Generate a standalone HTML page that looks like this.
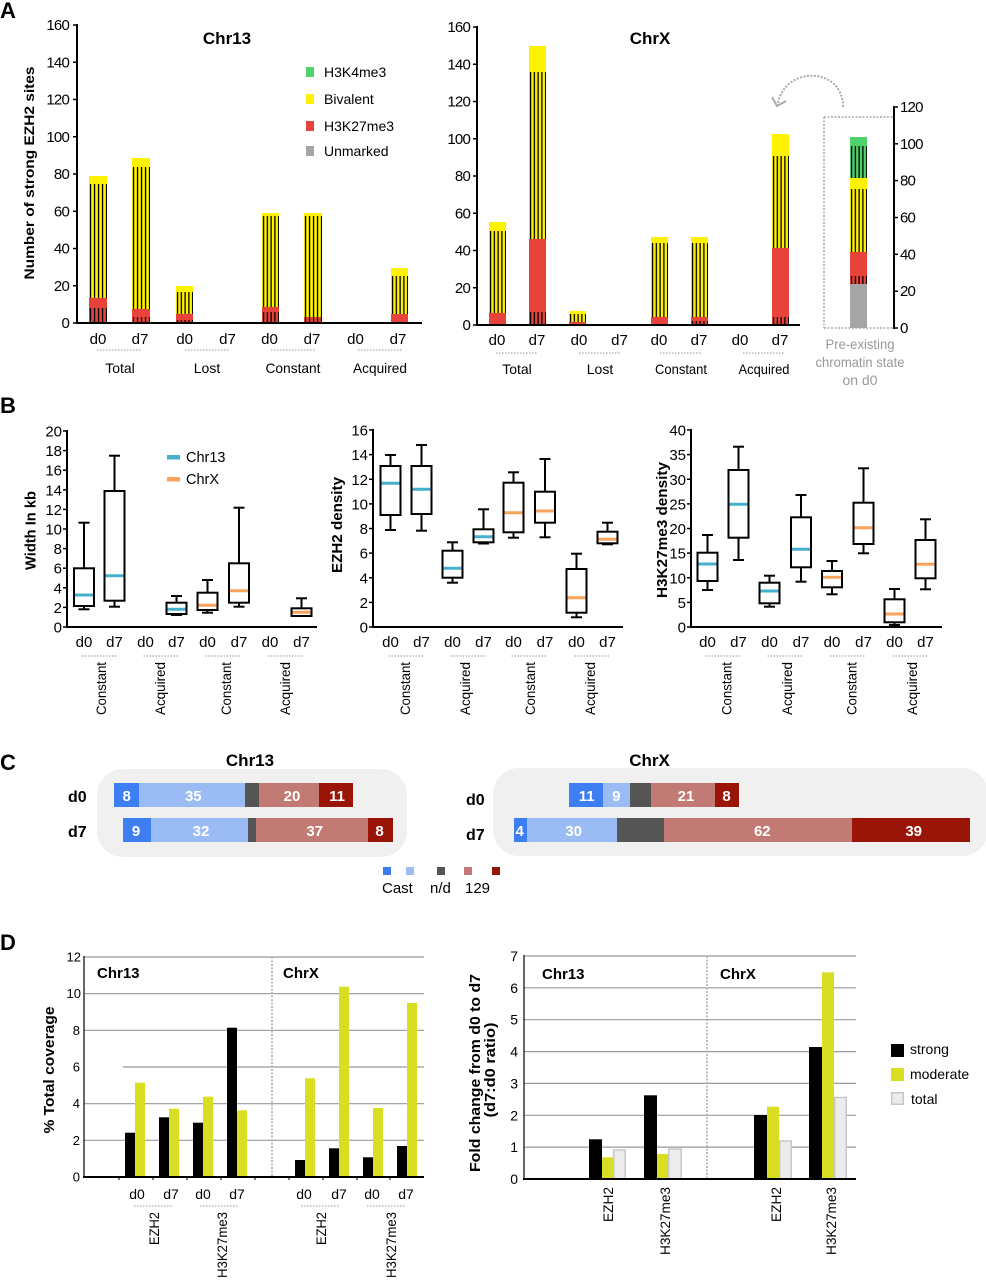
<!DOCTYPE html>
<html>
<head>
<meta charset="utf-8">
<style>
html,body{margin:0;padding:0;background:#fff;}
svg{display:block;}
text{font-family:"Liberation Sans",Arial,Helvetica,sans-serif;fill:#000;}
.tk{font-size:15px;letter-spacing:-0.8px;}
.tkb{font-size:15px;}
.lab{font-size:15px;}
.grp{font-size:14px;}
.b{font-weight:bold;}
.g text,.gr{fill:#999;}
</style>
</head>
<body>
<svg xmlns="http://www.w3.org/2000/svg" width="986" height="1280" viewBox="0 0 986 1280">
<defs>
<pattern id="h" patternUnits="objectBoundingBox" width="0.2222" height="1">
<rect x="0.9" y="0" width="1.3" height="400" fill="#000"/>
</pattern>
</defs>
<rect width="986" height="1280" fill="#fff"/>

<!-- ================= PANEL A ================= -->
<text x="0" y="18" font-size="22" class="b">A</text>

<!-- Chr13 -->
<text x="227" y="44" font-size="17" class="b" text-anchor="middle">Chr13</text>
<text transform="translate(34,173) rotate(-90)" font-size="14" class="b" text-anchor="middle" textLength="213" lengthAdjust="spacingAndGlyphs">Number of strong EZH2 sites</text>
<g stroke="#000" stroke-width="1.5">
<line x1="73" y1="323" x2="77" y2="323"/><line x1="73" y1="285.75" x2="77" y2="285.75"/><line x1="73" y1="248.5" x2="77" y2="248.5"/><line x1="73" y1="211.25" x2="77" y2="211.25"/><line x1="73" y1="174" x2="77" y2="174"/><line x1="73" y1="136.75" x2="77" y2="136.75"/><line x1="73" y1="99.5" x2="77" y2="99.5"/><line x1="73" y1="62.25" x2="77" y2="62.25"/><line x1="73" y1="25" x2="77" y2="25"/>
</g>
<g class="tk" text-anchor="end">
<text x="69" y="328">0</text><text x="69" y="290.75">20</text><text x="69" y="253.5">40</text><text x="69" y="216.25">60</text><text x="69" y="179">80</text><text x="69" y="141.75">100</text><text x="69" y="104.5">120</text><text x="69" y="67.25">140</text><text x="69" y="30">160</text>
</g>
<!-- bars Chr13 -->
<g>
<rect x="89" y="176" width="18" height="122" fill="#fff200"/><rect x="89" y="298" width="18" height="25" fill="#e8433b"/>
<rect x="89" y="184" width="18" height="114" fill="url(#h)"/><rect x="89" y="308" width="18" height="15" fill="url(#h)"/>

<rect x="132" y="158" width="18" height="151" fill="#fff200"/><rect x="132" y="309" width="18" height="14" fill="#e8433b"/>
<rect x="132" y="167" width="18" height="142" fill="url(#h)"/><rect x="132" y="317" width="18" height="6" fill="url(#h)"/>

<rect x="176" y="286" width="17" height="28" fill="#fff200"/><rect x="176" y="314" width="17" height="9" fill="#e8433b"/>
<rect x="176" y="292" width="17" height="22" fill="url(#h)"/><rect x="176" y="320" width="17" height="3" fill="url(#h)"/>

<rect x="262" y="213" width="17" height="94" fill="#fff200"/><rect x="262" y="307" width="17" height="16" fill="#e8433b"/>
<rect x="262" y="216" width="17" height="91" fill="url(#h)"/><rect x="262" y="312" width="17" height="11" fill="url(#h)"/>

<rect x="304" y="213" width="18" height="104" fill="#fff200"/><rect x="304" y="317" width="18" height="6" fill="#e8433b"/>
<rect x="304" y="216" width="18" height="107" fill="url(#h)"/>

<rect x="391" y="268" width="17" height="46" fill="#fff200"/><rect x="391" y="314" width="17" height="9" fill="#e8433b"/>
<rect x="391" y="276" width="17" height="38" fill="url(#h)"/>
</g>
<line x1="77" y1="24" x2="77" y2="324" stroke="#000" stroke-width="2"/>
<line x1="76" y1="323" x2="422" y2="323" stroke="#000" stroke-width="2"/>
<!-- legend A -->
<rect x="306" y="67" width="8" height="10" fill="#4fd26a"/>
<rect x="306" y="94" width="8" height="10" fill="#fff200"/>
<rect x="306" y="121" width="8" height="10" fill="#e8433b"/>
<rect x="306" y="146" width="8" height="10" fill="#a5a5a5"/>
<g font-size="14">
<text x="324" y="77">H3K4me3</text><text x="324" y="104">Bivalent</text><text x="324" y="131">H3K27me3</text><text x="324" y="156">Unmarked</text>
</g>
<g class="lab" text-anchor="middle">
<text x="98" y="344">d0</text><text x="140" y="344">d7</text><text x="184.7" y="344">d0</text><text x="227.5" y="344">d7</text><text x="269.5" y="344">d0</text><text x="312" y="344">d7</text><text x="355.5" y="344">d0</text><text x="398" y="344">d7</text>
</g>
<g stroke="#aaa" stroke-width="1.3" stroke-dasharray="1.5 1.5">
<line x1="97" y1="350" x2="142" y2="350"/><line x1="185" y1="350" x2="230" y2="350"/><line x1="271" y1="350" x2="316" y2="350"/><line x1="358" y1="350" x2="403" y2="350"/>
</g>
<g class="grp" text-anchor="middle">
<text x="120" y="373">Total</text><text x="207" y="373">Lost</text><text x="293" y="373" textLength="55" lengthAdjust="spacingAndGlyphs">Constant</text><text x="380" y="373" textLength="54" lengthAdjust="spacingAndGlyphs">Acquired</text>
</g>

<!-- ChrX -->
<text x="650" y="44" font-size="17" class="b" text-anchor="middle">ChrX</text>
<g stroke="#000" stroke-width="1.5">
<line x1="473" y1="325" x2="477" y2="325"/><line x1="473" y1="287.75" x2="477" y2="287.75"/><line x1="473" y1="250.5" x2="477" y2="250.5"/><line x1="473" y1="213.25" x2="477" y2="213.25"/><line x1="473" y1="176" x2="477" y2="176"/><line x1="473" y1="138.75" x2="477" y2="138.75"/><line x1="473" y1="101.5" x2="477" y2="101.5"/><line x1="473" y1="64.25" x2="477" y2="64.25"/><line x1="473" y1="27" x2="477" y2="27"/>
</g>
<g class="tk" text-anchor="end">
<text x="470" y="330">0</text><text x="470" y="292.75">20</text><text x="470" y="255.5">40</text><text x="470" y="218.25">60</text><text x="470" y="181">80</text><text x="470" y="143.75">100</text><text x="470" y="106.5">120</text><text x="470" y="69.25">140</text><text x="470" y="32">160</text>
</g>
<g>
<rect x="489" y="222" width="17" height="91" fill="#fff200"/><rect x="489" y="313" width="17" height="12" fill="#e8433b"/>
<rect x="489" y="231" width="17" height="82" fill="url(#h)"/>

<rect x="529" y="46" width="17" height="193" fill="#fff200"/><rect x="529" y="239" width="17" height="86" fill="#e8433b"/>
<rect x="529" y="72" width="17" height="167" fill="url(#h)"/><rect x="529" y="312" width="17" height="13" fill="url(#h)"/>

<rect x="569" y="311" width="17" height="11" fill="#fff200"/><rect x="569" y="322" width="17" height="3" fill="#e8433b"/>
<rect x="569" y="314" width="17" height="8" fill="url(#h)"/>

<rect x="651" y="237" width="17" height="80" fill="#fff200"/><rect x="651" y="317" width="17" height="8" fill="#e8433b"/>
<rect x="651" y="243" width="17" height="74" fill="url(#h)"/>

<rect x="691" y="237" width="17" height="80" fill="#fff200"/><rect x="691" y="317" width="17" height="8" fill="#e8433b"/>
<rect x="691" y="243" width="17" height="74" fill="url(#h)"/><rect x="691" y="321" width="17" height="4" fill="url(#h)"/>

<rect x="772" y="134" width="17" height="114" fill="#fff200"/><rect x="772" y="248" width="17" height="77" fill="#e8433b"/>
<rect x="772" y="156" width="17" height="92" fill="url(#h)"/><rect x="772" y="317" width="17" height="8" fill="url(#h)"/>
</g>
<line x1="477" y1="26" x2="477" y2="326" stroke="#000" stroke-width="2"/>
<line x1="476" y1="325" x2="800" y2="325" stroke="#000" stroke-width="2"/>
<g class="lab" text-anchor="middle">
<text x="497" y="345">d0</text><text x="537" y="345">d7</text><text x="579" y="345">d0</text><text x="619.5" y="345">d7</text><text x="659" y="345">d0</text><text x="699" y="345">d7</text><text x="740" y="345">d0</text><text x="780" y="345">d7</text>
</g>
<g stroke="#aaa" stroke-width="1.3" stroke-dasharray="1.5 1.5">
<line x1="496" y1="353" x2="538" y2="353"/><line x1="579" y1="353" x2="621" y2="353"/><line x1="660" y1="353" x2="702" y2="353"/><line x1="743" y1="353" x2="784" y2="353"/>
</g>
<g class="grp" text-anchor="middle">
<text x="517" y="374">Total</text><text x="600" y="374">Lost</text><text x="681" y="374" textLength="52" lengthAdjust="spacingAndGlyphs">Constant</text><text x="764" y="374" textLength="51" lengthAdjust="spacingAndGlyphs">Acquired</text>
</g>

<!-- inset -->
<path d="M843,107 C843,66 785,66 778,103" fill="none" stroke="#aaa" stroke-width="2" stroke-dasharray="2 1.5"/>
<polyline points="772,97 777,106 786,101" fill="none" stroke="#aaa" stroke-width="2"/>
<g stroke="#aaa" stroke-width="1.5" stroke-dasharray="2 1.5" fill="none">
<line x1="824" y1="117" x2="893" y2="117"/><line x1="824" y1="117" x2="824" y2="328"/><line x1="824" y1="328" x2="893" y2="328"/>
</g>
<rect x="850" y="137" width="17" height="41" fill="#4fd26a"/>
<rect x="850" y="178" width="17" height="74" fill="#fff200"/>
<rect x="850" y="252" width="17" height="32" fill="#e8433b"/>
<rect x="850" y="284" width="17" height="44" fill="#a5a5a5"/>
<rect x="850" y="146" width="17" height="32" fill="url(#h)"/>
<rect x="850" y="189" width="17" height="63" fill="url(#h)"/>
<rect x="850" y="276" width="17" height="8" fill="url(#h)"/>
<line x1="894" y1="106" x2="894" y2="329" stroke="#000" stroke-width="2"/>
<g stroke="#000" stroke-width="1.5">
<line x1="894" y1="107" x2="898" y2="107"/><line x1="894" y1="143.8" x2="898" y2="143.8"/><line x1="894" y1="180.6" x2="898" y2="180.6"/><line x1="894" y1="217.5" x2="898" y2="217.5"/><line x1="894" y1="254.3" x2="898" y2="254.3"/><line x1="894" y1="291.2" x2="898" y2="291.2"/><line x1="894" y1="328" x2="898" y2="328"/>
</g>
<g class="tk" style="fill:#999">
<text x="900" y="333" fill="#999">0</text><text x="900" y="296.2" fill="#999">20</text><text x="900" y="259.3" fill="#999">40</text><text x="900" y="222.5" fill="#999">60</text><text x="900" y="185.6" fill="#999">80</text><text x="900" y="148.8" fill="#999">100</text><text x="900" y="112" fill="#999">120</text>
</g>
<g font-size="14" text-anchor="middle">
<text x="860" y="349" style="fill:#9a9a9a" textLength="69" lengthAdjust="spacingAndGlyphs">Pre-existing</text>
<text x="860" y="367" style="fill:#9a9a9a" textLength="89" lengthAdjust="spacingAndGlyphs">chromatin state</text>
<text x="860" y="385" style="fill:#9a9a9a">on d0</text>
</g>

<!-- ================= PANEL B ================= -->
<text x="0" y="413" font-size="22" class="b">B</text>

<!-- B1 -->
<text transform="translate(35.5,530.5) rotate(-90)" class="tkb b" text-anchor="middle" textLength="79" lengthAdjust="spacingAndGlyphs">Width In kb</text>
<g stroke="#000" stroke-width="1.5">
<line x1="63" y1="627" x2="67" y2="627"/><line x1="63" y1="607.4" x2="67" y2="607.4"/><line x1="63" y1="587.8" x2="67" y2="587.8"/><line x1="63" y1="568.2" x2="67" y2="568.2"/><line x1="63" y1="548.6" x2="67" y2="548.6"/><line x1="63" y1="529" x2="67" y2="529"/><line x1="63" y1="509.4" x2="67" y2="509.4"/><line x1="63" y1="489.8" x2="67" y2="489.8"/><line x1="63" y1="470.2" x2="67" y2="470.2"/><line x1="63" y1="450.6" x2="67" y2="450.6"/><line x1="63" y1="431" x2="67" y2="431"/>
</g>
<g class="tkb" text-anchor="end">
<text x="62" y="632.5">0</text><text x="62" y="612.9">2</text><text x="62" y="593.3">4</text><text x="62" y="573.7">6</text><text x="62" y="554.1">8</text><text x="62" y="534.5">10</text><text x="62" y="514.9">12</text><text x="62" y="495.3">14</text><text x="62" y="475.7">16</text><text x="62" y="456.1">18</text><text x="62" y="436.5">20</text>
</g>
<g stroke="#000" stroke-width="2" fill="none">
<line x1="84" y1="522.7" x2="84" y2="568.3"/><line x1="78.5" y1="522.7" x2="89.5" y2="522.7"/><line x1="84" y1="606" x2="84" y2="609.3"/><line x1="78.5" y1="609.3" x2="89.5" y2="609.3"/><rect x="74" y="568.3" width="20" height="37.7" fill="#fff"/>
<line x1="114.5" y1="455.7" x2="114.5" y2="491"/><line x1="109" y1="455.7" x2="120" y2="455.7"/><line x1="114.5" y1="600.7" x2="114.5" y2="606.7"/><line x1="109" y1="606.7" x2="120" y2="606.7"/><rect x="104.5" y="491" width="20" height="109.7" fill="#fff"/>
<line x1="176.5" y1="596" x2="176.5" y2="602.7"/><line x1="171" y1="596" x2="182" y2="596"/><line x1="171" y1="615" x2="182" y2="615"/><rect x="166.5" y="602.7" width="20" height="11.3" fill="#fff"/>
<line x1="207.5" y1="580" x2="207.5" y2="592.7"/><line x1="202" y1="580" x2="213" y2="580"/><line x1="207.5" y1="610" x2="207.5" y2="612.7"/><line x1="202" y1="612.7" x2="213" y2="612.7"/><rect x="197.5" y="592.7" width="20" height="17.3" fill="#fff"/>
<line x1="239" y1="507.7" x2="239" y2="563.3"/><line x1="233.5" y1="507.7" x2="244.5" y2="507.7"/><line x1="239" y1="602.7" x2="239" y2="606.7"/><line x1="233.5" y1="606.7" x2="244.5" y2="606.7"/><rect x="229" y="563.3" width="20" height="39.4" fill="#fff"/>
<line x1="301.5" y1="598.3" x2="301.5" y2="608.3"/><line x1="296" y1="598.3" x2="307" y2="598.3"/><rect x="291.5" y="608.3" width="20" height="7.7" fill="#fff"/>
</g>
<g stroke-width="3">
<line x1="75" y1="595" x2="93" y2="595" stroke="#46b0cc"/>
<line x1="105.5" y1="575.7" x2="123.5" y2="575.7" stroke="#46b0cc"/>
<line x1="167.5" y1="609.3" x2="185.5" y2="609.3" stroke="#46b0cc"/>
<line x1="198.5" y1="605.3" x2="216.5" y2="605.3" stroke="#f7a35c"/>
<line x1="230" y1="590.7" x2="248" y2="590.7" stroke="#f7a35c"/>
<line x1="292.5" y1="612.2" x2="310.5" y2="612.2" stroke="#f7a35c"/>
</g>
<line x1="67" y1="430" x2="67" y2="628" stroke="#000" stroke-width="2"/>
<line x1="66" y1="627" x2="317" y2="627" stroke="#000" stroke-width="2"/>
<rect x="167" y="455" width="13" height="4.5" fill="#46b0cc"/>
<rect x="167" y="477" width="13" height="4.5" fill="#f7a35c"/>
<text x="186" y="462" font-size="14.5">Chr13</text>
<text x="186" y="484" font-size="14.5">ChrX</text>
<g class="lab" text-anchor="middle">
<text x="84" y="647">d0</text><text x="114.5" y="647">d7</text><text x="145.5" y="647">d0</text><text x="176.5" y="647">d7</text><text x="207.5" y="647">d0</text><text x="239" y="647">d7</text><text x="270" y="647">d0</text><text x="301.5" y="647">d7</text>
</g>
<g stroke="#aaa" stroke-width="1.3" stroke-dasharray="1.5 1.5">
<line x1="82" y1="656" x2="116.5" y2="656"/><line x1="143.5" y1="656" x2="178.5" y2="656"/><line x1="205.5" y1="656" x2="241" y2="656"/><line x1="268" y1="656" x2="303.5" y2="656"/>
</g>
<g class="grp" text-anchor="end">
<text transform="translate(106,662) rotate(-90)" textLength="53" lengthAdjust="spacingAndGlyphs">Constant</text>
<text transform="translate(165,662) rotate(-90)" textLength="53" lengthAdjust="spacingAndGlyphs">Acquired</text>
<text transform="translate(231,662) rotate(-90)" textLength="53" lengthAdjust="spacingAndGlyphs">Constant</text>
<text transform="translate(290,662) rotate(-90)" textLength="53" lengthAdjust="spacingAndGlyphs">Acquired</text>
</g>

<!-- B2 -->
<text transform="translate(342,525) rotate(-90)" class="tkb b" text-anchor="middle" textLength="96" lengthAdjust="spacingAndGlyphs">EZH2 density</text>
<g stroke="#000" stroke-width="1.5">
<line x1="369" y1="627" x2="373" y2="627"/><line x1="369" y1="602.4" x2="373" y2="602.4"/><line x1="369" y1="577.75" x2="373" y2="577.75"/><line x1="369" y1="553.1" x2="373" y2="553.1"/><line x1="369" y1="528.5" x2="373" y2="528.5"/><line x1="369" y1="503.9" x2="373" y2="503.9"/><line x1="369" y1="479.25" x2="373" y2="479.25"/><line x1="369" y1="454.6" x2="373" y2="454.6"/><line x1="369" y1="430" x2="373" y2="430"/>
</g>
<g class="tkb" text-anchor="end">
<text x="368" y="632.5">0</text><text x="368" y="607.9">2</text><text x="368" y="583.25">4</text><text x="368" y="558.6">6</text><text x="368" y="534">8</text><text x="368" y="509.4">10</text><text x="368" y="484.75">12</text><text x="368" y="460.1">14</text><text x="368" y="435.5">16</text>
</g>
<g stroke="#000" stroke-width="2" fill="none">
<line x1="390.5" y1="455" x2="390.5" y2="530"/><line x1="385" y1="455" x2="396" y2="455"/><line x1="385" y1="530" x2="396" y2="530"/><rect x="380.5" y="466" width="20" height="49" fill="#fff"/>
<line x1="421.5" y1="445" x2="421.5" y2="530.7"/><line x1="416" y1="445" x2="427" y2="445"/><line x1="416" y1="530.7" x2="427" y2="530.7"/><rect x="411.5" y="466" width="20" height="48" fill="#fff"/>
<line x1="452.5" y1="542.3" x2="452.5" y2="582.7"/><line x1="447" y1="542.3" x2="458" y2="542.3"/><line x1="447" y1="582.7" x2="458" y2="582.7"/><rect x="442.5" y="550.7" width="20" height="27" fill="#fff"/>
<line x1="483.5" y1="509.3" x2="483.5" y2="529.3"/><line x1="478" y1="509.3" x2="489" y2="509.3"/><line x1="478" y1="543.5" x2="489" y2="543.5"/><rect x="473.5" y="529.3" width="20" height="13" fill="#fff"/>
<line x1="513.5" y1="472.3" x2="513.5" y2="537.7"/><line x1="508" y1="472.3" x2="519" y2="472.3"/><line x1="508" y1="537.7" x2="519" y2="537.7"/><rect x="503.5" y="482.7" width="20" height="49.6" fill="#fff"/>
<line x1="545" y1="459" x2="545" y2="537.3"/><line x1="539.5" y1="459" x2="550.5" y2="459"/><line x1="539.5" y1="537.3" x2="550.5" y2="537.3"/><rect x="535" y="491.7" width="20" height="31" fill="#fff"/>
<line x1="576.5" y1="553.7" x2="576.5" y2="617.3"/><line x1="571" y1="553.7" x2="582" y2="553.7"/><line x1="571" y1="617.3" x2="582" y2="617.3"/><rect x="566.5" y="569" width="20" height="43.7" fill="#fff"/>
<line x1="607.5" y1="522.7" x2="607.5" y2="531.7"/><line x1="602" y1="522.7" x2="613" y2="522.7"/><line x1="602" y1="544.3" x2="613" y2="544.3"/><rect x="597.5" y="531.7" width="20" height="11.6" fill="#fff"/>
</g>
<g stroke-width="3">
<line x1="381.5" y1="483.3" x2="399.5" y2="483.3" stroke="#46b0cc"/>
<line x1="412.5" y1="489.3" x2="430.5" y2="489.3" stroke="#46b0cc"/>
<line x1="443.5" y1="568.3" x2="461.5" y2="568.3" stroke="#46b0cc"/>
<line x1="474.5" y1="536.7" x2="492.5" y2="536.7" stroke="#46b0cc"/>
<line x1="504.5" y1="512.7" x2="522.5" y2="512.7" stroke="#f7a35c"/>
<line x1="536" y1="511" x2="554" y2="511" stroke="#f7a35c"/>
<line x1="567.5" y1="597.7" x2="585.5" y2="597.7" stroke="#f7a35c"/>
<line x1="598.5" y1="539.3" x2="616.5" y2="539.3" stroke="#f7a35c"/>
</g>
<line x1="373" y1="429" x2="373" y2="628" stroke="#000" stroke-width="2"/>
<line x1="372" y1="627" x2="623" y2="627" stroke="#000" stroke-width="2"/>
<g class="lab" text-anchor="middle">
<text x="390.5" y="647">d0</text><text x="421.5" y="647">d7</text><text x="452.5" y="647">d0</text><text x="483.5" y="647">d7</text><text x="513.5" y="647">d0</text><text x="545" y="647">d7</text><text x="576.5" y="647">d0</text><text x="607.5" y="647">d7</text>
</g>
<g stroke="#aaa" stroke-width="1.3" stroke-dasharray="1.5 1.5">
<line x1="388.5" y1="656" x2="423.5" y2="656"/><line x1="450.5" y1="656" x2="485.5" y2="656"/><line x1="511.5" y1="656" x2="547" y2="656"/><line x1="574.5" y1="656" x2="609.5" y2="656"/>
</g>
<g class="grp" text-anchor="end">
<text transform="translate(410,662) rotate(-90)" textLength="53" lengthAdjust="spacingAndGlyphs">Constant</text>
<text transform="translate(470,662) rotate(-90)" textLength="53" lengthAdjust="spacingAndGlyphs">Acquired</text>
<text transform="translate(535,662) rotate(-90)" textLength="53" lengthAdjust="spacingAndGlyphs">Constant</text>
<text transform="translate(595,662) rotate(-90)" textLength="53" lengthAdjust="spacingAndGlyphs">Acquired</text>
</g>

<!-- B3 -->
<text transform="translate(667,530) rotate(-90)" class="tkb b" text-anchor="middle" textLength="136" lengthAdjust="spacingAndGlyphs">H3K27me3 density</text>
<g stroke="#000" stroke-width="1.5">
<line x1="687" y1="627" x2="691" y2="627"/><line x1="687" y1="602.4" x2="691" y2="602.4"/><line x1="687" y1="577.75" x2="691" y2="577.75"/><line x1="687" y1="553.1" x2="691" y2="553.1"/><line x1="687" y1="528.5" x2="691" y2="528.5"/><line x1="687" y1="503.9" x2="691" y2="503.9"/><line x1="687" y1="479.25" x2="691" y2="479.25"/><line x1="687" y1="454.6" x2="691" y2="454.6"/><line x1="687" y1="430" x2="691" y2="430"/>
</g>
<g class="tkb" text-anchor="end">
<text x="686" y="632.5">0</text><text x="686" y="607.9">5</text><text x="686" y="583.25">10</text><text x="686" y="558.6">15</text><text x="686" y="534">20</text><text x="686" y="509.4">25</text><text x="686" y="484.75">30</text><text x="686" y="460.1">35</text><text x="686" y="435.5">40</text>
</g>
<g stroke="#000" stroke-width="2" fill="none">
<line x1="707.5" y1="535" x2="707.5" y2="590"/><line x1="702" y1="535" x2="713" y2="535"/><line x1="702" y1="590" x2="713" y2="590"/><rect x="697.5" y="552.7" width="20" height="28.3" fill="#fff"/>
<line x1="738.5" y1="446.7" x2="738.5" y2="560"/><line x1="733" y1="446.7" x2="744" y2="446.7"/><line x1="733" y1="560" x2="744" y2="560"/><rect x="728.5" y="470" width="20" height="67.7" fill="#fff"/>
<line x1="769.5" y1="575.7" x2="769.5" y2="606.7"/><line x1="764" y1="575.7" x2="775" y2="575.7"/><line x1="764" y1="606.7" x2="775" y2="606.7"/><rect x="759.5" y="582.7" width="20" height="20.6" fill="#fff"/>
<line x1="801" y1="495" x2="801" y2="581.7"/><line x1="795.5" y1="495" x2="806.5" y2="495"/><line x1="795.5" y1="581.7" x2="806.5" y2="581.7"/><rect x="791" y="517.3" width="20" height="50" fill="#fff"/>
<line x1="832" y1="561" x2="832" y2="594.3"/><line x1="826.5" y1="561" x2="837.5" y2="561"/><line x1="826.5" y1="594.3" x2="837.5" y2="594.3"/><rect x="822" y="571" width="20" height="16.3" fill="#fff"/>
<line x1="863.5" y1="468.3" x2="863.5" y2="553.3"/><line x1="858" y1="468.3" x2="869" y2="468.3"/><line x1="858" y1="553.3" x2="869" y2="553.3"/><rect x="853.5" y="502.7" width="20" height="41.3" fill="#fff"/>
<line x1="894.5" y1="589" x2="894.5" y2="625"/><line x1="889" y1="589" x2="900" y2="589"/><line x1="889" y1="625" x2="900" y2="625"/><rect x="884.5" y="599.3" width="20" height="23" fill="#fff"/>
<line x1="925.5" y1="519.3" x2="925.5" y2="589.3"/><line x1="920" y1="519.3" x2="931" y2="519.3"/><line x1="920" y1="589.3" x2="931" y2="589.3"/><rect x="915.5" y="540" width="20" height="38.3" fill="#fff"/>
</g>
<g stroke-width="3">
<line x1="698.5" y1="552" x2="716.5" y2="552" stroke="#46b0cc" transform="translate(0,12)"/>
<line x1="729.5" y1="504.3" x2="747.5" y2="504.3" stroke="#46b0cc"/>
<line x1="760.5" y1="591" x2="778.5" y2="591" stroke="#46b0cc"/>
<line x1="792" y1="549.3" x2="810" y2="549.3" stroke="#46b0cc"/>
<line x1="823" y1="577.3" x2="841" y2="577.3" stroke="#f7a35c"/>
<line x1="854.5" y1="527.7" x2="872.5" y2="527.7" stroke="#f7a35c"/>
<line x1="885.5" y1="614" x2="903.5" y2="614" stroke="#f7a35c"/>
<line x1="916.5" y1="564.3" x2="934.5" y2="564.3" stroke="#f7a35c"/>
</g>
<line x1="691" y1="429" x2="691" y2="628" stroke="#000" stroke-width="2"/>
<line x1="690" y1="627" x2="942" y2="627" stroke="#000" stroke-width="2"/>
<g class="lab" text-anchor="middle">
<text x="707.5" y="647">d0</text><text x="738.5" y="647">d7</text><text x="769.5" y="647">d0</text><text x="801" y="647">d7</text><text x="832" y="647">d0</text><text x="863.5" y="647">d7</text><text x="894.5" y="647">d0</text><text x="925.5" y="647">d7</text>
</g>
<g stroke="#aaa" stroke-width="1.3" stroke-dasharray="1.5 1.5">
<line x1="705.5" y1="656" x2="740.5" y2="656"/><line x1="767.5" y1="656" x2="803" y2="656"/><line x1="830" y1="656" x2="865.5" y2="656"/><line x1="892.5" y1="656" x2="927.5" y2="656"/>
</g>
<g class="grp" text-anchor="end">
<text transform="translate(731.5,662) rotate(-90)" textLength="53" lengthAdjust="spacingAndGlyphs">Constant</text>
<text transform="translate(792,662) rotate(-90)" textLength="53" lengthAdjust="spacingAndGlyphs">Acquired</text>
<text transform="translate(856.5,662) rotate(-90)" textLength="53" lengthAdjust="spacingAndGlyphs">Constant</text>
<text transform="translate(917,662) rotate(-90)" textLength="53" lengthAdjust="spacingAndGlyphs">Acquired</text>
</g>

<!-- ================= PANEL C ================= -->
<text x="0" y="770" font-size="22" class="b">C</text>
<text x="250" y="766" font-size="17" class="b" text-anchor="middle">Chr13</text>
<text x="649.5" y="766" font-size="17" class="b" text-anchor="middle">ChrX</text>
<rect x="97" y="769" width="310" height="88" rx="26" fill="#f0f0f0"/>
<rect x="493" y="768" width="495" height="88" rx="26" fill="#f0f0f0"/>
<text x="68" y="802" font-size="16" class="b">d0</text>
<text x="68" y="837" font-size="16" class="b">d7</text>
<text x="466" y="805" font-size="16" class="b">d0</text>
<text x="466" y="840" font-size="16" class="b">d7</text>
<!-- Chr13 bars -->
<rect x="114" y="783" width="25" height="24" fill="#3d7ef2"/>
<rect x="139" y="783" width="106" height="24" fill="#9bbbf5"/>
<rect x="245" y="783" width="14" height="24" fill="#555"/>
<rect x="259" y="783" width="60" height="24" fill="#c17b74"/>
<rect x="319" y="783" width="34" height="24" fill="#9a1508"/>
<rect x="123" y="818" width="28" height="24" fill="#3d7ef2"/>
<rect x="151" y="818" width="97" height="24" fill="#9bbbf5"/>
<rect x="248" y="818" width="8" height="24" fill="#555"/>
<rect x="256" y="818" width="112" height="24" fill="#c17b74"/>
<rect x="368" y="818" width="25" height="24" fill="#9a1508"/>
<!-- ChrX bars -->
<rect x="569" y="783" width="34" height="24" fill="#3d7ef2"/>
<rect x="603" y="783" width="27" height="24" fill="#9bbbf5"/>
<rect x="630" y="783" width="21" height="24" fill="#555"/>
<rect x="651" y="783" width="64" height="24" fill="#c17b74"/>
<rect x="715" y="783" width="24" height="24" fill="#9a1508"/>
<rect x="514" y="818" width="13" height="24" fill="#3d7ef2"/>
<rect x="527" y="818" width="90" height="24" fill="#9bbbf5"/>
<rect x="617" y="818" width="47" height="24" fill="#555"/>
<rect x="664" y="818" width="188" height="24" fill="#c17b74"/>
<rect x="852" y="818" width="118" height="24" fill="#9a1508"/>
<g font-size="15" class="b" text-anchor="middle" style="fill:#fff">
<text x="126.7" y="801" fill="#fff" style="fill:#fff">8</text>
<text x="193.3" y="801" style="fill:#fff">35</text>
<text x="292" y="801" style="fill:#fff">20</text>
<text x="337" y="801" style="fill:#fff">11</text>
<text x="136" y="836" style="fill:#fff">9</text>
<text x="201" y="836" style="fill:#fff">32</text>
<text x="314.7" y="836" style="fill:#fff">37</text>
<text x="379.5" y="836" style="fill:#fff">8</text>
<text x="586.7" y="801" style="fill:#fff">11</text>
<text x="616.3" y="801" style="fill:#fff">9</text>
<text x="686" y="801" style="fill:#fff">21</text>
<text x="726.5" y="801" style="fill:#fff">8</text>
<text x="519.7" y="836" style="fill:#fff">4</text>
<text x="573.7" y="836" style="fill:#fff">30</text>
<text x="762.3" y="836" style="fill:#fff">62</text>
<text x="913.7" y="836" style="fill:#fff">39</text>
</g>
<rect x="383" y="867" width="8" height="8" fill="#3d7ef2"/>
<rect x="406" y="867" width="8" height="8" fill="#9bbbf5"/>
<rect x="437" y="867" width="8" height="8" fill="#555"/>
<rect x="464" y="867" width="8" height="8" fill="#c17b74"/>
<rect x="492" y="867" width="8" height="8" fill="#9a1508"/>
<g font-size="15">
<text x="382" y="893">Cast</text><text x="430" y="893">n/d</text><text x="465" y="893">129</text>
</g>

<!-- ================= PANEL D ================= -->
<text x="0" y="950" font-size="22" class="b">D</text>

<!-- D left -->
<g stroke="#999" stroke-width="1.2">
<line x1="84" y1="1140.3" x2="424" y2="1140.3"/><line x1="84" y1="1103.7" x2="424" y2="1103.7"/><line x1="123" y1="1067" x2="424" y2="1067"/><line x1="84" y1="1030.3" x2="424" y2="1030.3"/><line x1="84" y1="993.7" x2="424" y2="993.7"/><line x1="84" y1="957" x2="424" y2="957"/>
</g>
<line x1="272" y1="957" x2="272" y2="1177" stroke="#aaa" stroke-width="1.5" stroke-dasharray="2 1.5"/>
<g fill="#000">
<rect x="125" y="1132.7" width="10" height="44.3"/>
<rect x="159" y="1117.3" width="10" height="59.7"/>
<rect x="193" y="1122.7" width="10" height="54.3"/>
<rect x="227" y="1027.7" width="10" height="149.3"/>
<rect x="295" y="1160" width="10" height="17"/>
<rect x="329" y="1148.3" width="10" height="28.7"/>
<rect x="363" y="1157.3" width="10" height="19.7"/>
<rect x="397" y="1146" width="10" height="31"/>
</g>
<g fill="#d8df22">
<rect x="135" y="1082.7" width="10" height="94.3"/>
<rect x="169" y="1108.7" width="10" height="68.3"/>
<rect x="203" y="1096.7" width="10" height="80.3"/>
<rect x="237" y="1110.3" width="10" height="66.7"/>
<rect x="305" y="1078.3" width="10" height="98.7"/>
<rect x="339" y="986.7" width="10" height="190.3"/>
<rect x="373" y="1108" width="10" height="69"/>
<rect x="407" y="1003" width="10" height="174"/>
</g>
<line x1="84" y1="956" x2="84" y2="1178" stroke="#333" stroke-width="1.5"/>
<line x1="83" y1="1177" x2="424" y2="1177" stroke="#000" stroke-width="2"/>
<g stroke="#000" stroke-width="1">
<line x1="119" y1="1177" x2="119" y2="1180"/><line x1="153" y1="1177" x2="153" y2="1180"/><line x1="187" y1="1177" x2="187" y2="1180"/><line x1="221" y1="1177" x2="221" y2="1180"/><line x1="255" y1="1177" x2="255" y2="1180"/><line x1="289" y1="1177" x2="289" y2="1180"/><line x1="323" y1="1177" x2="323" y2="1180"/><line x1="357" y1="1177" x2="357" y2="1180"/><line x1="390" y1="1177" x2="390" y2="1180"/>
</g>
<g font-size="13" text-anchor="end">
<text x="80" y="1181.5">0</text><text x="80" y="1144.8">2</text><text x="80" y="1108.2">4</text><text x="80" y="1071.5">6</text><text x="80" y="1034.8">8</text><text x="81" y="998.2">10</text><text x="81" y="961.5">12</text>
</g>
<text transform="translate(54,1070) rotate(-90)" class="tkb b" text-anchor="middle" textLength="127" lengthAdjust="spacingAndGlyphs">% Total coverage</text>
<text x="97" y="978" font-size="15" class="b">Chr13</text>
<text x="283" y="978" font-size="15" class="b">ChrX</text>
<g font-size="14" text-anchor="middle">
<text x="137" y="1199">d0</text><text x="171" y="1199">d7</text><text x="203" y="1199">d0</text><text x="237" y="1199">d7</text><text x="304" y="1199">d0</text><text x="339" y="1199">d7</text><text x="372" y="1199">d0</text><text x="406" y="1199">d7</text>
</g>
<g stroke="#aaa" stroke-width="1.3" stroke-dasharray="1.5 1.5">
<line x1="134" y1="1206" x2="172" y2="1206"/><line x1="200" y1="1206" x2="239" y2="1206"/><line x1="301" y1="1206" x2="339" y2="1206"/><line x1="367" y1="1206" x2="406" y2="1206"/>
</g>
<g font-size="14" text-anchor="end">
<text transform="translate(159,1212) rotate(-90)" textLength="33" lengthAdjust="spacingAndGlyphs">EZH2</text>
<text transform="translate(227,1212) rotate(-90)" textLength="66" lengthAdjust="spacingAndGlyphs">H3K27me3</text>
<text transform="translate(326,1212) rotate(-90)" textLength="33" lengthAdjust="spacingAndGlyphs">EZH2</text>
<text transform="translate(396,1212) rotate(-90)" textLength="66" lengthAdjust="spacingAndGlyphs">H3K27me3</text>
</g>

<!-- D right -->
<g stroke="#999" stroke-width="1.2">
<line x1="524" y1="1147.1" x2="856" y2="1147.1"/><line x1="524" y1="1115.3" x2="856" y2="1115.3"/><line x1="524" y1="1083.4" x2="856" y2="1083.4"/><line x1="524" y1="1051.6" x2="856" y2="1051.6"/><line x1="524" y1="1019.7" x2="856" y2="1019.7"/><line x1="524" y1="987.8" x2="856" y2="987.8"/><line x1="524" y1="956" x2="856" y2="956"/>
</g>
<line x1="707" y1="956" x2="707" y2="1179" stroke="#aaa" stroke-width="1.5" stroke-dasharray="2 1.5"/>
<g fill="#000">
<rect x="589" y="1139.3" width="13" height="39.7"/>
<rect x="644" y="1095.3" width="13" height="83.7"/>
<rect x="754" y="1115" width="13" height="64"/>
<rect x="809" y="1047" width="13" height="132"/>
</g>
<g fill="#d8df22">
<rect x="602" y="1157.3" width="11" height="21.7"/>
<rect x="657" y="1154" width="11" height="25"/>
<rect x="767" y="1106.7" width="12" height="72.3"/>
<rect x="822" y="972.3" width="12" height="206.7"/>
</g>
<g fill="#ececec" stroke="#c8c8c8" stroke-width="1.5">
<rect x="613.75" y="1150" width="11.5" height="29"/>
<rect x="668.75" y="1149" width="12.5" height="30"/>
<rect x="779.75" y="1141" width="11.5" height="38"/>
<rect x="834.75" y="1097.5" width="11.5" height="81.5"/>
</g>
<line x1="524" y1="955" x2="524" y2="1180" stroke="#333" stroke-width="1.5"/>
<line x1="523" y1="1179" x2="856" y2="1179" stroke="#000" stroke-width="2"/>
<g font-size="14" text-anchor="end">
<text x="518" y="1184">0</text><text x="518" y="1152.1">1</text><text x="518" y="1120.3">2</text><text x="518" y="1088.4">3</text><text x="518" y="1056.6">4</text><text x="518" y="1024.7">5</text><text x="518" y="992.8">6</text><text x="518" y="961">7</text>
</g>
<text transform="translate(480,1073) rotate(-90)" class="tkb b" text-anchor="middle" textLength="198" lengthAdjust="spacingAndGlyphs">Fold change from d0 to d7</text>
<text transform="translate(495,1070) rotate(-90)" class="tkb b" text-anchor="middle" textLength="95" lengthAdjust="spacingAndGlyphs">(d7:d0 ratio)</text>
<text x="542" y="979" font-size="15" class="b">Chr13</text>
<text x="720" y="979" font-size="15" class="b">ChrX</text>
<g font-size="14" text-anchor="end">
<text transform="translate(613,1187) rotate(-90)" textLength="35" lengthAdjust="spacingAndGlyphs">EZH2</text>
<text transform="translate(670,1187) rotate(-90)" textLength="68" lengthAdjust="spacingAndGlyphs">H3K27me3</text>
<text transform="translate(781,1187) rotate(-90)" textLength="35" lengthAdjust="spacingAndGlyphs">EZH2</text>
<text transform="translate(836,1187) rotate(-90)" textLength="68" lengthAdjust="spacingAndGlyphs">H3K27me3</text>
</g>
<rect x="891" y="1044" width="13" height="13" fill="#000"/>
<rect x="891" y="1068" width="13" height="13" fill="#d8df22"/>
<rect x="891.75" y="1092.75" width="11.5" height="11.5" fill="#ececec" stroke="#c8c8c8" stroke-width="1.5"/>
<g font-size="14">
<text x="910" y="1054">strong</text><text x="910" y="1079">moderate</text><text x="911" y="1104">total</text>
</g>
</svg>
</body>
</html>
